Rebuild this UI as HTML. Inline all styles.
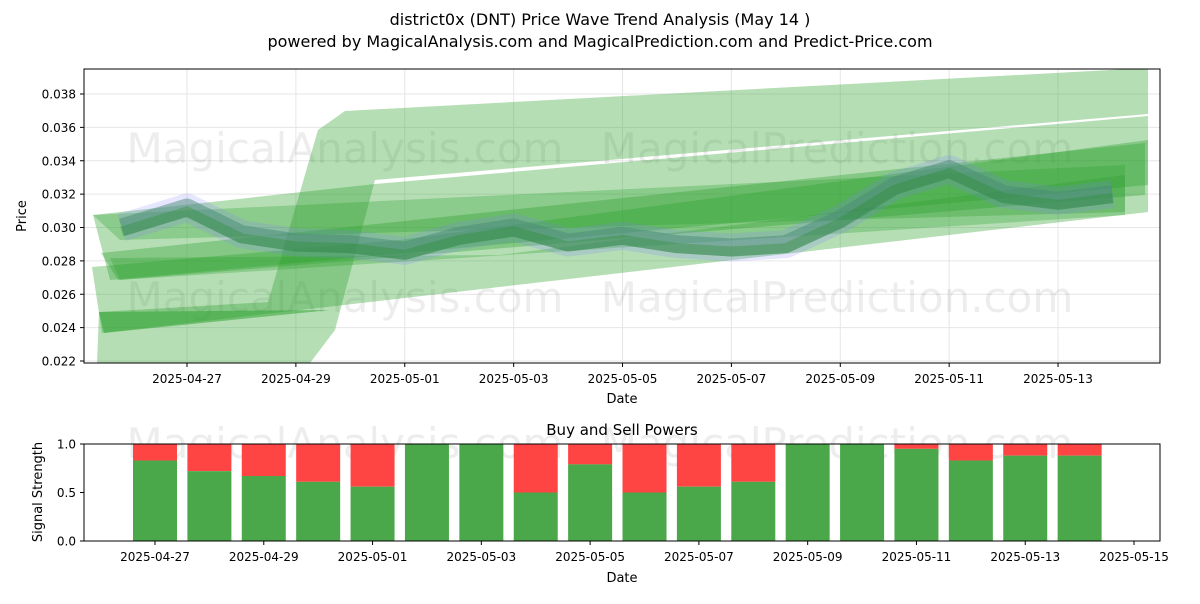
<!DOCTYPE html>
<html><head><meta charset="utf-8"><style>
body{margin:0;background:#fff;font-family:"DejaVu Sans","Liberation Sans",sans-serif}
svg text{font-family:"DejaVu Sans","Liberation Sans",sans-serif}
</style></head><body>
<svg id="c" width="1200" height="600" viewBox="0 0 1200 600" xmlns="http://www.w3.org/2000/svg">
<text x="600" y="25" text-anchor="middle" font-size="16">district0x (DNT) Price Wave Trend Analysis (May 14 )</text>
<text x="600" y="47" text-anchor="middle" font-size="16">powered by MagicalAnalysis.com and MagicalPrediction.com and Predict-Price.com</text>
<defs><clipPath id="cp"><rect x="84" y="69" width="1076" height="294"/></clipPath></defs>
<g id="topPanel"></g>
<g id="botPanel"></g>
</svg>
<script>
const priceDays=[-1.2,0,1,2,3,4,5,6,7,8,9,10,11,12,13,14,15,16,17];
const priceVals=[0.0300,0.0312,0.0296,0.0291,0.0290,0.0286,0.0295,0.0300,0.0291,0.0295,0.0290,0.0288,0.0290,0.0305,0.0325,0.0335,0.0320,0.0316,0.0320];
const yTicks=[0.022,0.024,0.026,0.028,0.030,0.032,0.034,0.036,0.038];
const xTickLabels=["2025-04-27","2025-04-29","2025-05-01","2025-05-03","2025-05-05","2025-05-07","2025-05-09","2025-05-11","2025-05-13"];
const barLabels=["04-27","04-28","04-29","04-30","05-01","05-02","05-03","05-04","05-05","05-06","05-07","05-08","05-09","05-10","05-11","05-12","05-13","05-14"];
const buyVals=[0.83,0.72,0.67,0.61,0.56,1,1,0.5,0.79,0.5,0.56,0.61,1,1,0.95,0.83,0.88,0.88];
const botTickLabels=["2025-04-27","2025-04-29","2025-05-01","2025-05-03","2025-05-05","2025-05-07","2025-05-09","2025-05-11","2025-05-13","2025-05-15"];
const sigTicks=[0,0.5,1.0];

const NS="http://www.w3.org/2000/svg";
const X=d=>187+d*54.44, Y=v=>361-(v-0.022)*16687.5;
const XB=d=>155+d*54.39, YB=v=>541-v*97;
function el(p,t,a){const e=document.createElementNS(NS,t);for(const k in a)e.setAttribute(k,a[k]);p.appendChild(e);return e;}
const topG=document.getElementById('topPanel'), botG=document.getElementById('botPanel');
for(let i=0;i<yTicks.length;i++){const y=Y(yTicks[i]);
 const g=el(topG,'line',{x1:84,x2:1160,y1:y,y2:y,stroke:'#e6e6e6'});
 
 
 el(topG,'line',{x1:80,x2:84,y1:y,y2:y,stroke:'#000'});
 const t=el(topG,'text',{x:76,y:y+4.5,'text-anchor':'end','font-size':12});t.textContent=yTicks[i].toFixed(3);
 
 }
for(let i=0;i<xTickLabels.length;i++){const x=X(i*2);
 el(topG,'line',{x1:x,x2:x,y1:69,y2:363,stroke:'#e6e6e6'});
 el(topG,'line',{x1:x,x2:x,y1:363,y2:367,stroke:'#000'});
 const t=el(topG,'text',{x:x,y:383,'text-anchor':'middle','font-size':12});t.textContent=xTickLabels[i];
 
 }
[[345,163],[837,163],[345,312],[837,312]].forEach((p,i)=>{const t=el(topG,'text',{x:p[0],y:p[1],'text-anchor':'middle','font-size':42,fill:'#000','fill-opacity':0.07});t.textContent=i%2?'MagicalPrediction.com':'MagicalAnalysis.com';
 
 });
const cg=el(topG,'g',{'clip-path':'url(#cp)'});
const bands=[
 ['97,363 99,312 268,302 318,130 345,111 1148,68 1148,114 375,180 335,330 310,363',0.35],
 ['93,215 375,184 1148,116 1148,185 110,280',0.35],
 ['92,267 400,240 1148,140 1148,212 102,333',0.35],
 ['101,253 1145,143 1145,195 118,280',0.35],
 ['99,312 330,310 104,333',0.5],
 ['93,215 1125,165 1125,212 120,240',0.3],
 ['110,258 500,255 1125,175 1125,215 120,280',0.3]];
bands.forEach(b=>{const p=el(cg,'polygon',{points:b[0],fill:'#2ca02c','fill-opacity':b[1]});
 
 });
const pts=priceDays.map((d,i)=>X(d)+','+Y(priceVals[i])).join(' ');
const halo=el(cg,'polyline',{points:pts,fill:'none',stroke:'#8080ff','stroke-opacity':0.2,'stroke-width':28,'stroke-linejoin':'round'});


const pl=el(cg,'polyline',{points:pts,fill:'none',stroke:'#4a8a78','stroke-opacity':0.5,'stroke-width':18,'stroke-linejoin':'round'});


const pl2=el(cg,'polyline',{points:pts,fill:'none',stroke:'#228b22','stroke-opacity':0.3,'stroke-width':10,'stroke-linejoin':'round',transform:'translate(0,4)'});


el(topG,'rect',{x:84,y:69,width:1076,height:294,fill:'none',stroke:'#000'});
let t=el(topG,'text',{x:622,y:403,'text-anchor':'middle','font-size':13});t.textContent='Date';


t=el(topG,'text',{x:0,y:0,'text-anchor':'middle','font-size':13,transform:'translate(26,216) rotate(-90)'});t.textContent='Price';


t=el(botG,'text',{x:622,y:435,'text-anchor':'middle','font-size':15});t.textContent='Buy and Sell Powers';


[[345,458],[837,458]].forEach((p,i)=>{const w=el(botG,'text',{x:p[0],y:p[1],'text-anchor':'middle','font-size':42,fill:'#000','fill-opacity':0.07});w.textContent=i?'MagicalPrediction.com':'MagicalAnalysis.com';
 
 });
buyVals.forEach((v,i)=>{const x=XB(i)-22;
 const s=el(botG,'rect',{x:x,y:YB(1),width:44,height:YB(v)-YB(1),fill:'#ff4444'});
 
 
 const b=el(botG,'rect',{x:x,y:YB(v),width:44,height:YB(0)-YB(v),fill:'#4aa84a'});
 
 });
sigTicks.forEach(v=>{const y=YB(v);el(botG,'line',{x1:80,x2:84,y1:y,y2:y,stroke:'#000'});
 const l=el(botG,'text',{x:76,y:y+4.5,'text-anchor':'end','font-size':12});l.textContent=v.toFixed(1);
 
 });
botTickLabels.forEach((s,i)=>{const x=XB(i*2);el(botG,'line',{x1:x,x2:x,y1:541,y2:545,stroke:'#000'});
 const l=el(botG,'text',{x:x,y:561,'text-anchor':'middle','font-size':12});l.textContent=s;
 
 });
el(botG,'rect',{x:84,y:444,width:1076,height:97,fill:'none',stroke:'#000'});
t=el(botG,'text',{x:622,y:582,'text-anchor':'middle','font-size':13});t.textContent='Date';


t=el(botG,'text',{x:0,y:0,'text-anchor':'middle','font-size':13,transform:'translate(42,492) rotate(-90)'});t.textContent='Signal Strength';


</script>
</body></html>
